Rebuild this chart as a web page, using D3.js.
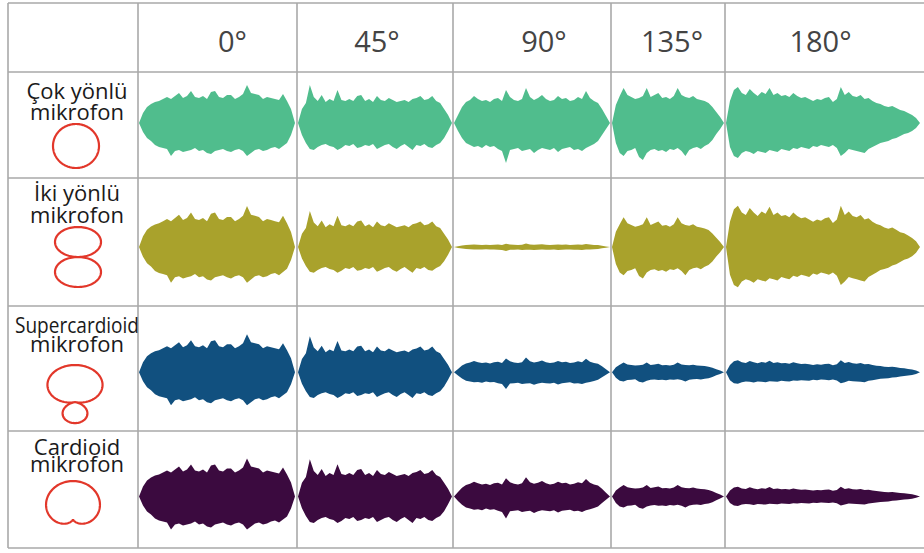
<!DOCTYPE html>
<html>
<head>
<meta charset="utf-8">
<script src="https://cdn.jsdelivr.net/npm/d3@7"></script>
<style>
html, body { margin: 0; padding: 0; background: #fff; }
svg { display: block; }
</style>
</head>
<body>
<svg id="chart" width="924" height="553"></svg>
<script>
const angles = ["0°", "45°", "90°", "135°", "180°"];
const micNames = [["Çok yönlü", "mikrofon"], ["İki yönlü", "mikrofon"], ["Supercardioid", "mikrofon"], ["Cardioid", "mikrofon"]];
const micColors = ["#50bd8d", "#a9a22c", "#11507f", "#3b0a3f"];

// polar pattern of each microphone: r = |a + b cos(theta)|
const patternA = [1, 0, 0.215, 0.5];
const patternB = [0, 1, 0.785, 0.5];

// level of each recording, rows = microphones, columns = angles
const gains = [
    [1.00, 1.00, 1.00, 1.00, 1.00],
    [1.08, 0.95, 0.10, 0.85, 1.15],
    [1.00, 0.95, 0.42, 0.28, 0.33],
    [1.00, 0.98, 0.55, 0.33, 0.27]
];

// envelope of the clip played at each angle (upper / lower half)
const env0Top = [0, 10, 16, 19, 21, 22, 24, 26, 24, 27, 30, 25, 27, 32, 26, 25, 27, 24, 31, 32, 26, 25, 28, 28, 24, 26, 29, 38, 30, 29, 28, 24, 26, 25, 24, 23, 29, 22, 14, 0];
const env0Bot = [0, 9, 15, 18, 22, 24, 25, 26, 33, 28, 27, 29, 28, 27, 25, 28, 27, 30, 31, 28, 27, 26, 28, 29, 27, 26, 28, 33, 30, 27, 26, 28, 27, 25, 24, 26, 23, 20, 12, 0];
const env45Top = [0, 14, 20, 38, 26, 22, 28, 21, 24, 22, 33, 23, 22, 24, 22, 27, 28, 22, 24, 21, 27, 23, 22, 25, 23, 21, 22, 23, 21, 24, 25, 27, 23, 24, 27, 22, 20, 14, 8, 0];
const env45Bot = [0, 12, 20, 26, 27, 24, 22, 21, 23, 24, 27, 25, 22, 23, 21, 25, 24, 22, 23, 21, 26, 24, 22, 21, 24, 26, 23, 21, 24, 27, 22, 23, 21, 24, 25, 22, 20, 15, 8, 0];
const env90Top = [0, 8, 16, 21, 23, 27, 24, 22, 23, 21, 24, 25, 22, 33, 26, 23, 22, 24, 35, 26, 23, 25, 28, 24, 22, 23, 27, 24, 25, 22, 23, 26, 24, 32, 25, 22, 20, 14, 7, 0];
const env90Bot = [0, 8, 15, 20, 22, 24, 23, 25, 22, 24, 23, 26, 28, 40, 27, 26, 25, 28, 27, 26, 30, 27, 25, 26, 27, 25, 29, 26, 25, 24, 27, 26, 28, 25, 23, 21, 18, 12, 6, 0];
const env135Top = [0, 18, 27, 35, 28, 26, 24, 25, 27, 35, 26, 28, 30, 25, 26, 24, 27, 35, 28, 26, 25, 27, 24, 23, 22, 20, 16, 11, 6, 0];
const env135Bot = [0, 20, 30, 33, 28, 27, 25, 34, 37, 30, 27, 26, 28, 27, 29, 26, 27, 25, 28, 33, 27, 25, 24, 26, 23, 21, 17, 11, 6, 0];
const env180Top = [0, 22, 33, 36, 30, 28, 34, 30, 27, 31, 29, 35, 28, 30, 27, 28, 26, 30, 27, 25, 26, 24, 22, 24, 23, 25, 26, 21, 24, 36, 28, 31, 27, 26, 28, 24, 25, 22, 20, 19, 17, 16, 17, 15, 13, 12, 10, 8, 5, 0];
const env180Bot = [0, 24, 33, 35, 30, 28, 29, 31, 28, 29, 30, 27, 28, 29, 26, 27, 28, 25, 26, 24, 25, 26, 23, 24, 22, 23, 24, 22, 25, 33, 30, 26, 27, 28, 29, 30, 26, 24, 22, 20, 19, 18, 16, 15, 13, 11, 10, 8, 5, 0];

const envTop = [env0Top, env45Top, env90Top, env135Top, env180Top];
const envBot = [env0Bot, env45Bot, env90Bot, env135Bot, env180Bot];

// table layout
let colEdges = [8, 138, 297, 453, 611, 725, 930];
let rowEdges = [3, 72, 178, 306, 431, 548];
let waveEnd = [295, 452, 610, 724, 920];
let waveMid = [0.48, 0.54, 0.53, 0.56];
let headerShift = [15, 2, 12, 4, -4];
let labelLines = [[27, 21], [23, 22], [27, 19], [24, 17]];
let icons = [
    {cx: 76, cy: 146, sx: 23, sy: 22},
    {cx: 78, cy: 257, sx: 46, sy: 30},
    {cx: 75, cy: 402, sx: 50, sy: 37},
    {cx: 73, cy: 519, sx: 41.5, sy: 38}
];

let svg = d3.select("#chart");

// waveforms
let g = svg.append("g");
micNames.forEach((mic, r) => {
    let top = rowEdges[r + 1], bottom = rowEdges[r + 2];
    let cy = top + (bottom - top) * waveMid[r];
    let y = d3.scaleLinear().domain([-40, 40]).range([cy + 40, cy - 40]);
    angles.forEach((a, c) => {
        let n = envTop[c].length;
        let x = d3.scaleLinear().domain([0, n - 1]).range([colEdges[c + 1] + 1, waveEnd[c]]);
        let area = d3.area()
            .x((d, i) => x(i))
            .y0((d, i) => y(-envBot[c][i] * gains[r][c]))
            .y1((d, i) => y(envTop[c][i] * gains[r][c]));
        g.append("path")
            .datum(envTop[c])
            .attr("d", area)
            .attr("fill", micColors[r]);
    });
});

// grid
let grid = svg.append("g").attr("stroke", "#a9a9a9").attr("stroke-width", 1.6);
grid.selectAll("line.h")
    .data(rowEdges)
    .enter().append("line")
    .attr("x1", colEdges[0]).attr("x2", colEdges[colEdges.length - 1])
    .attr("y1", d => d).attr("y2", d => d);
grid.selectAll("line.v")
    .data(colEdges)
    .enter().append("line")
    .attr("y1", rowEdges[0]).attr("y2", rowEdges[rowEdges.length - 1])
    .attr("x1", d => d).attr("x2", d => d);

// header
svg.append("g")
    .selectAll("text")
    .data(angles)
    .enter().append("text")
    .attr("x", (d, i) => (colEdges[i + 1] + Math.min(colEdges[i + 2], 924)) / 2 + headerShift[i])
    .attr("y", 52)
    .attr("text-anchor", "middle")
    .attr("font-family", "'Open Sans', sans-serif")
    .attr("font-size", 29)
    .attr("fill", "#444")
    .text(d => d);

// row labels, two lines in one text
micNames.forEach((lines, r) => {
    let txt = svg.append("text")
        .attr("x", 77)
        .attr("y", rowEdges[r + 1] + labelLines[r][0])
        .attr("text-anchor", "middle")
        .attr("font-family", "'Open Sans', sans-serif")
        .attr("font-size", 22)
        .attr("fill", "#1a1a1a");
    lines.forEach((t, k) => {
        let ts = txt.append("tspan")
            .attr("x", 77)
            .attr("dy", k === 0 ? 0 : labelLines[r][1])
            .text(t);
        if (ts.node().getComputedTextLength() > 124) {
            ts.attr("textLength", 124).attr("lengthAdjust", "spacingAndGlyphs");
        }
    });
});

// polar pattern icons
let thetas = d3.range(0, 361, 2).map(d => d * Math.PI / 180);
icons.forEach((ic, r) => {
    let px = d3.scaleLinear().domain([-1, 1]).range([ic.cx - ic.sx, ic.cx + ic.sx]);
    let py = d3.scaleLinear().domain([-1, 1]).range([ic.cy + ic.sy, ic.cy - ic.sy]);
    let pts = thetas.map(t => {
        let rr = Math.abs(patternA[r] + patternB[r] * Math.cos(t));
        return [rr * Math.sin(t), rr * Math.cos(t)];
    });
    svg.append("path")
        .datum(pts)
        .attr("d", d3.line().x(d => px(d[0])).y(d => py(d[1])))
        .attr("fill", "none")
        .attr("stroke", "#e2372a")
        .attr("stroke-width", 2.2);
});
</script>
</body>
</html>
